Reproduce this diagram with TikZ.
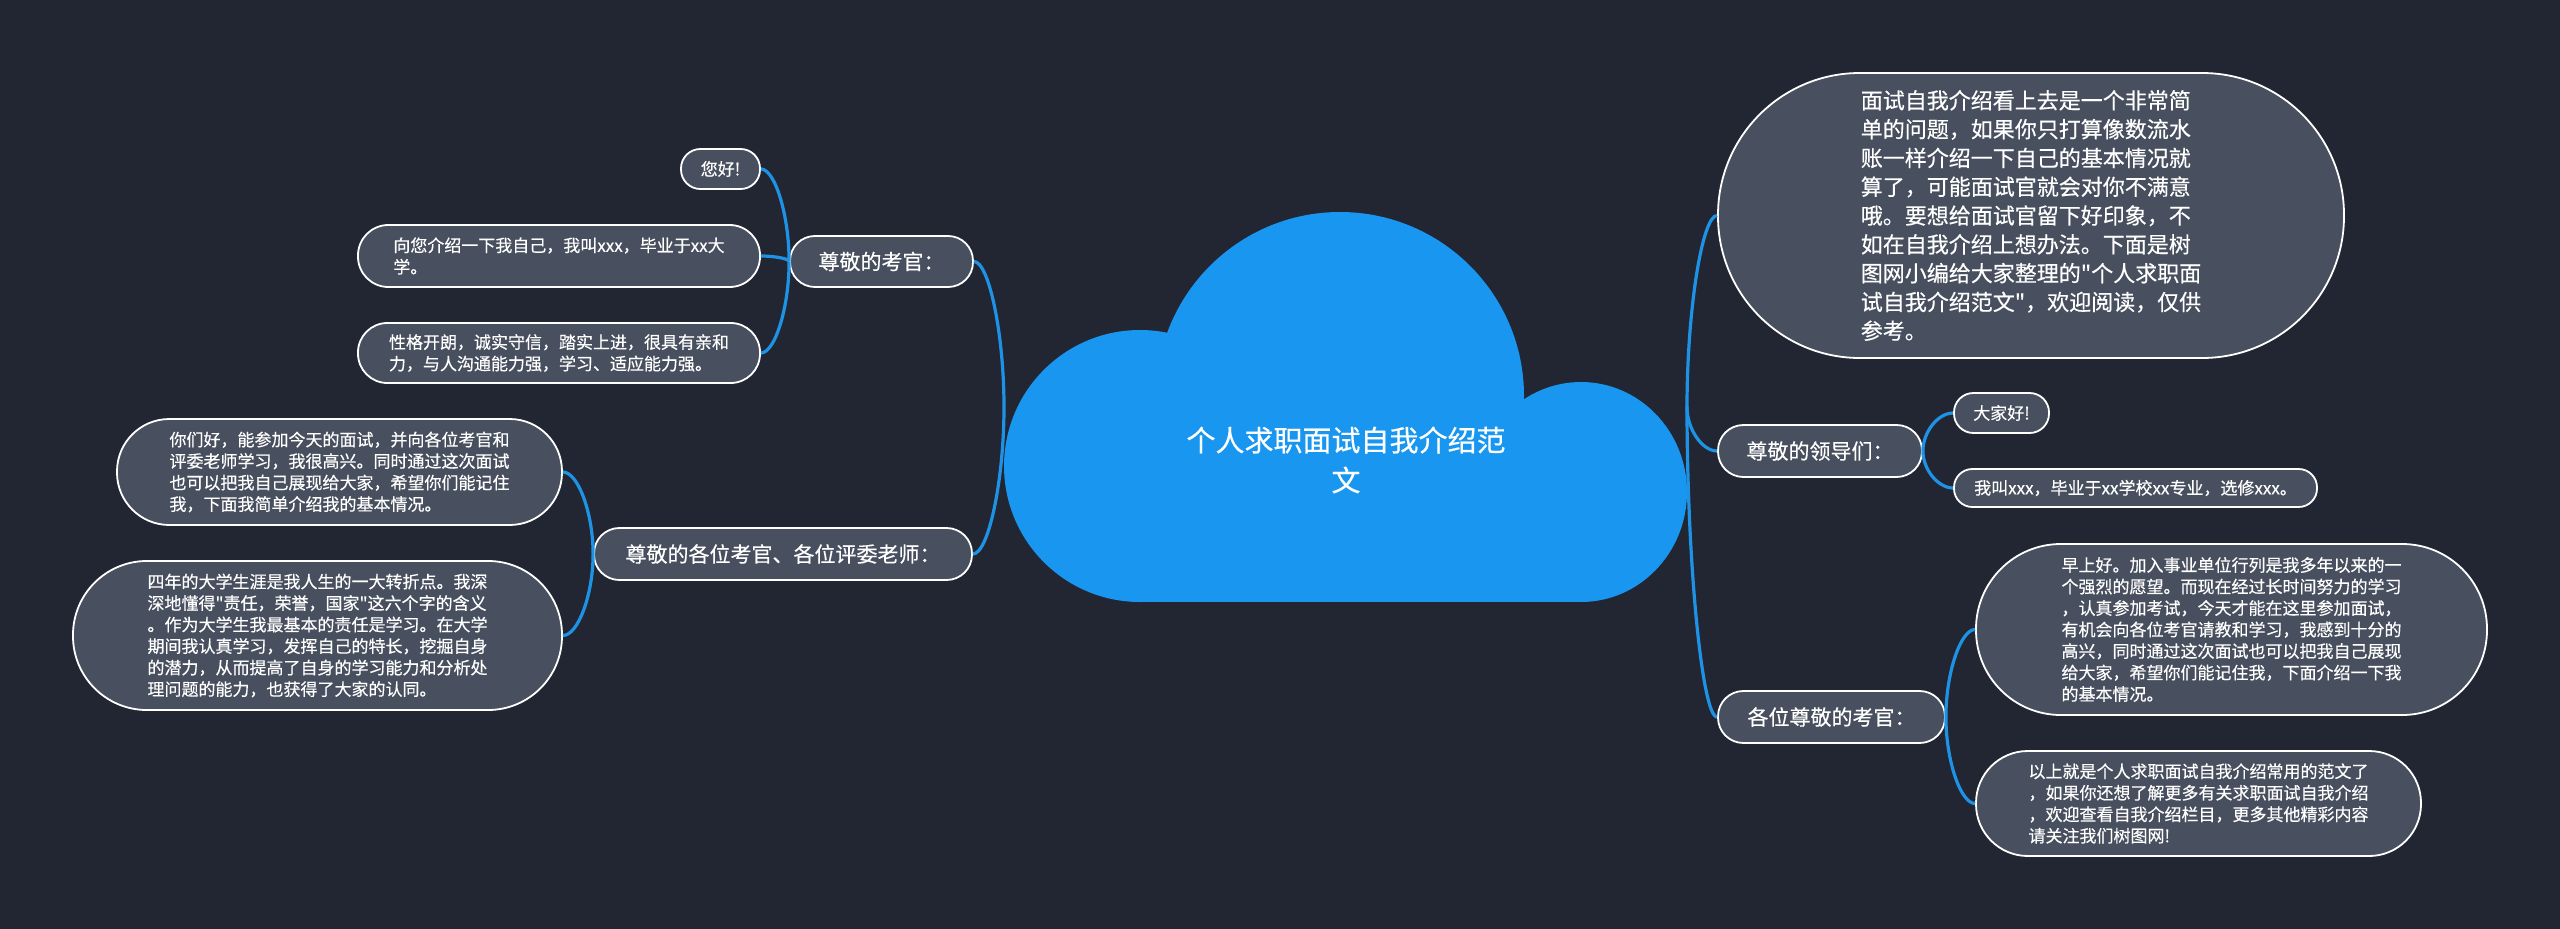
\documentclass[tikz,border=0pt]{standalone}
\usepackage{fontspec}
\newfontfamily\cjk[FakeBold=0.4]{Noto Sans CJK SC}
\usetikzlibrary{calc}
\definecolor{bgc}{HTML}{222632}
\definecolor{boxc}{HTML}{484F5E}
\definecolor{linec}{HTML}{1E93E6}
\definecolor{cloudc}{HTML}{1996F0}
\tikzset{
  box/.style={draw=white, line width=1.8pt, fill=boxc, text=white, align=left, inner sep=0pt},
  pill/.style 2 args={minimum width=#1, minimum height=#2, rounded corners=#2/2-0.6pt},
  leaf/.style={box, font=\cjk\fontsize{17pt}{21.5pt}\selectfont},
  bigleaf/.style={box, font=\cjk\fontsize{22pt}{28.8pt}\selectfont},
  branch/.style={box, font=\cjk\fontsize{21pt}{26pt}\selectfont},
  roottext/.style={text=white, align=center, inner sep=0pt, font=\cjk\fontsize{29pt}{40pt}\selectfont},
  conn/.style={draw=linec, line width=3.2pt},
  cloudpart/.style={fill=cloudc}
}
\newcommand\mmlink[2]{\draw[conn] (#1) .. controls ($(#1)!0.5!(#1|-#2)$) and ($(#2)!0.5!(#1|-#2)$) .. (#2);}
\begin{document}
\begin{tikzpicture}[x=1pt,y=-1pt]
\useasboundingbox (0,0) rectangle (2560,929);
\fill[bgc] (0,0) rectangle (2560,929);

% cloud (root)
\begin{scope}
\clip (900,150) rectangle (1800,602);
\fill[cloudpart] (1140,466) circle (136pt);
\fill[cloudpart] (1340,396) circle (184pt);
\fill[cloudpart] (1581,492) ellipse (106pt and 110pt);
\fill[cloudpart] (1140,420) rectangle (1581,602);
\end{scope}
\node[roottext] (root) at (1346,460) {个人求职面试自我介绍范\\文};
\coordinate (rootL) at (1004,407);
\coordinate (rootR) at (1687,407);

% left branches
\node[branch, pill={183pt}{51pt}] (b1) at (881.5,261.5) {尊敬的考官：};
\node[leaf, pill={79pt}{40pt}] (l11) at (720.5,169) {您好!};
\node[leaf, pill={402pt}{62pt}] (l12) at (559,256) {向您介绍一下我自己，我叫xxx，毕业于xx大\\学。};
\node[leaf, pill={402pt}{60pt}] (l13) at (559,353) {性格开朗，诚实守信，踏实上进，很具有亲和\\力，与人沟通能力强，学习、适应能力强。};

\node[branch, pill={378pt}{52pt}] (b2) at (783,554) {尊敬的各位考官、各位评委老师：};
\node[leaf, pill={445pt}{106pt}] (l21) at (339.5,472) {你们好，能参加今天的面试，并向各位考官和\\评委老师学习，我很高兴。同时通过这次面试\\也可以把我自己展现给大家，希望你们能记住\\我，下面我简单介绍我的基本情况。};
\node[leaf, pill={489pt}{149pt}] (l22) at (317.5,635.5) {四年的大学生涯是我人生的一大转折点。我深\\深地懂得"责任，荣誉，国家"这六个字的含义\\。作为大学生我最基本的责任是学习。在大学\\期间我认真学习，发挥自己的特长，挖掘自身\\的潜力，从而提高了自身的学习能力和分析处\\理问题的能力，也获得了大家的认同。};

% right branches
\node[bigleaf, pill={626pt}{285pt}] (r0) at (2031,215.5) {面试自我介绍看上去是一个非常简\\单的问题，如果你只打算像数流水\\账一样介绍一下自己的基本情况就\\算了，可能面试官就会对你不满意\\哦。要想给面试官留下好印象，不\\如在自我介绍上想办法。下面是树\\图网小编给大家整理的"个人求职面\\试自我介绍范文"，欢迎阅读，仅供\\参考。};

\node[branch, pill={204pt}{52pt}] (b3) at (1820,451) {尊敬的领导们：};
\node[leaf, pill={95pt}{40pt}] (l31) at (2001.5,413) {大家好!};
\node[leaf, pill={363pt}{38pt}] (l32) at (2135.5,488) {我叫xxx，毕业于xx学校xx专业，选修xxx。};

\node[branch, pill={227pt}{52pt}] (b4) at (1831.5,717) {各位尊敬的考官：};
\node[leaf, pill={511pt}{171pt}] (l41) at (2231.5,629.5) {早上好。加入事业单位行列是我多年以来的一\\个强烈的愿望。而现在经过长时间努力的学习\\，认真参加考试，今天才能在这里参加面试，\\有机会向各位考官请教和学习，我感到十分的\\高兴，同时通过这次面试也可以把我自己展现\\给大家，希望你们能记住我，下面介绍一下我\\的基本情况。};
\node[leaf, pill={445pt}{105pt}] (l42) at (2198.5,803.5) {以上就是个人求职面试自我介绍常用的范文了\\，如果你还想了解更多有关求职面试自我介绍\\，欢迎查看自我介绍栏目，更多其他精彩内容\\请关注我们树图网!};

% connectors
\mmlink{rootL}{b1.east}
\mmlink{rootL}{b2.east}
\mmlink{b1.west}{l11.east}
\mmlink{b1.west}{l12.east}
\mmlink{b1.west}{l13.east}
\mmlink{b2.west}{l21.east}
\mmlink{b2.west}{l22.east}
\mmlink{rootR}{r0.west}
\mmlink{rootR}{b3.west}
\mmlink{rootR}{b4.west}
\mmlink{b3.east}{l31.west}
\mmlink{b3.east}{l32.west}
\mmlink{b4.east}{l41.west}
\mmlink{b4.east}{l42.west}
\end{tikzpicture}
\end{document}
